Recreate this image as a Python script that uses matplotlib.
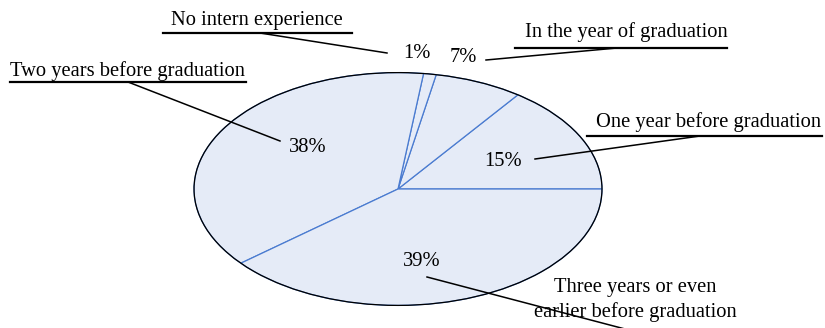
import matplotlib
matplotlib.use("Agg")
import matplotlib.pyplot as plt
from matplotlib.patches import Circle
from matplotlib.lines import Line2D

# data (counter-clockwise from 3 o'clock)
categories = [
    "One year before graduation",
    "In the year of graduation",
    "No intern experience",
    "Two years before graduation",
    "Three years or even\nearlier before graduation",
]
shares = [15, 7, 1, 38, 39]

W, H = 825, 328
FILL = "#e5ebf7"
EDGE = "#4a7bd0"
FS = 14.8

# layout, in pixels of the output image (x, y from top-left)
pct_pos = [(503, 161), (463, 58), (417, 54), (308, 148), (422, 262)]
label_pos = [(709, 122), (626, 32), (257, 21), (128, 71), (635, 300)]
underline = [(587, 822, 136), (515, 727, 48), (163, 352, 33), (10, 246, 82), None]
leader = [
    ((700, 136), (535, 159)),
    ((617, 48), (486, 60)),
    ((260, 33), (387, 53)),
    ((128, 82), (280, 141)),
    ((427, 277), (625, 329)),
]


def px(x, y):
    return x / W, 1 - y / H


plt.rcParams["font.family"] = ["Liberation Serif", "DejaVu Serif"]

fig = plt.figure(figsize=(W / 100, H / 100), dpi=100)
ax = fig.add_axes([193 / W, 22 / H, 410 / W, 234 / H])
ax.pie(
    shares,
    startangle=0,
    counterclock=True,
    colors=[FILL] * len(shares),
    wedgeprops=dict(edgecolor=EDGE, linewidth=0.9),
)
ax.add_patch(Circle((0, 0), 1, fill=False, edgecolor="black", linewidth=0.9, zorder=5))
ax.set_aspect("auto")
ax.set_xlim(-1.005, 1.005)
ax.set_ylim(-1.005, 1.005)
ax.axis("off")

for v, (x, y) in zip(shares, pct_pos):
    fig.text(*px(x, y), f"{v}%", fontsize=FS, ha="center", va="center")

for name, (x, y), ul, (p0, p1) in zip(categories, label_pos, underline, leader):
    fig.text(*px(x, y), name, fontsize=FS, ha="center", va="center", linespacing=1.4)
    if ul:
        x0, x1, yy = ul
        fig.add_artist(Line2D([x0 / W, x1 / W], [1 - yy / H] * 2, color="black", linewidth=1.6))
    fig.add_artist(Line2D([p0[0] / W, p1[0] / W], [1 - p0[1] / H, 1 - p1[1] / H],
                          color="black", linewidth=1.1))

fig.savefig("out.png", dpi=100)
